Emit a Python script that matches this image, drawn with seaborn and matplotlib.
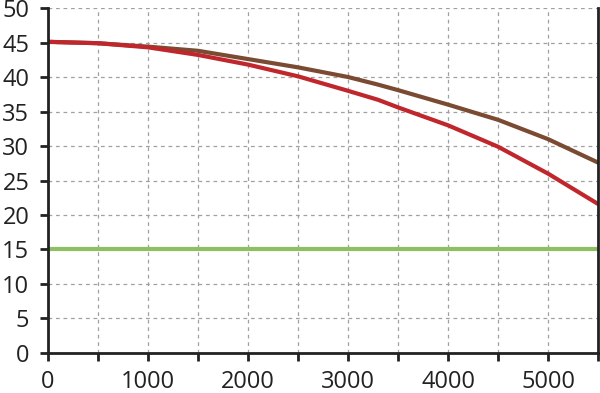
import seaborn as sns
import pandas as pd
import matplotlib.pyplot as plt

# values
dist = [0, 500, 1000, 1500, 2000, 2500, 3000, 3300, 3500, 4000, 4500, 5000, 5500]
brown = [45.1, 44.9, 44.4, 43.8, 42.6, 41.4, 40.0, 38.9, 38.1, 36.0, 33.8, 31.0, 27.6]
red = [45.1, 44.9, 44.3, 43.2, 41.8, 40.1, 38.0, 36.7, 35.6, 33.0, 29.9, 26.0, 21.6]
limit = [15] * len(dist)

df = pd.DataFrame({"x": dist, "brown": brown, "red": red, "limit": limit})

sns.set_style("white")
plt.rcParams['font.family'] = ['Open Sans', 'DejaVu Sans']

fig = plt.figure(figsize=(6, 3.93), dpi=100)
ax = fig.add_axes([0.08, 0.1018, 0.9167, 0.8778])

sns.lineplot(data=df, x="x", y="limit", color="#8cc062", linewidth=3, ax=ax)
sns.lineplot(data=df, x="x", y="brown", color="#7a4b32", linewidth=3, ax=ax)
sns.lineplot(data=df, x="x", y="red", color="#c0272d", linewidth=3, ax=ax)

ax.set_xlim(0, 5500)
ax.set_ylim(0, 50)
xt = list(range(0, 5501, 500))
ax.set_xticks(xt)
ax.set_xticklabels([str(v) if v % 1000 == 0 else "" for v in xt])
ax.set_yticks(range(0, 51, 5))
ax.set(xlabel="", ylabel="")
ax.grid(True, color="#a0a0a0", linestyle=(0, (3, 3)), linewidth=0.9)
ax.set_axisbelow(True)

for s in ["left", "bottom", "right"]:
    ax.spines[s].set_color("#222222")
    ax.spines[s].set_linewidth(2)
ax.spines["top"].set_visible(False)
ax.tick_params(axis="both", direction="out", length=5.5, width=2, color="#222222",
               labelsize=17, labelcolor="#222222", left=True, bottom=True)
ax.tick_params(axis="x", pad=7)
ax.tick_params(axis="y", pad=8)

plt.savefig("out.png", dpi=100)
